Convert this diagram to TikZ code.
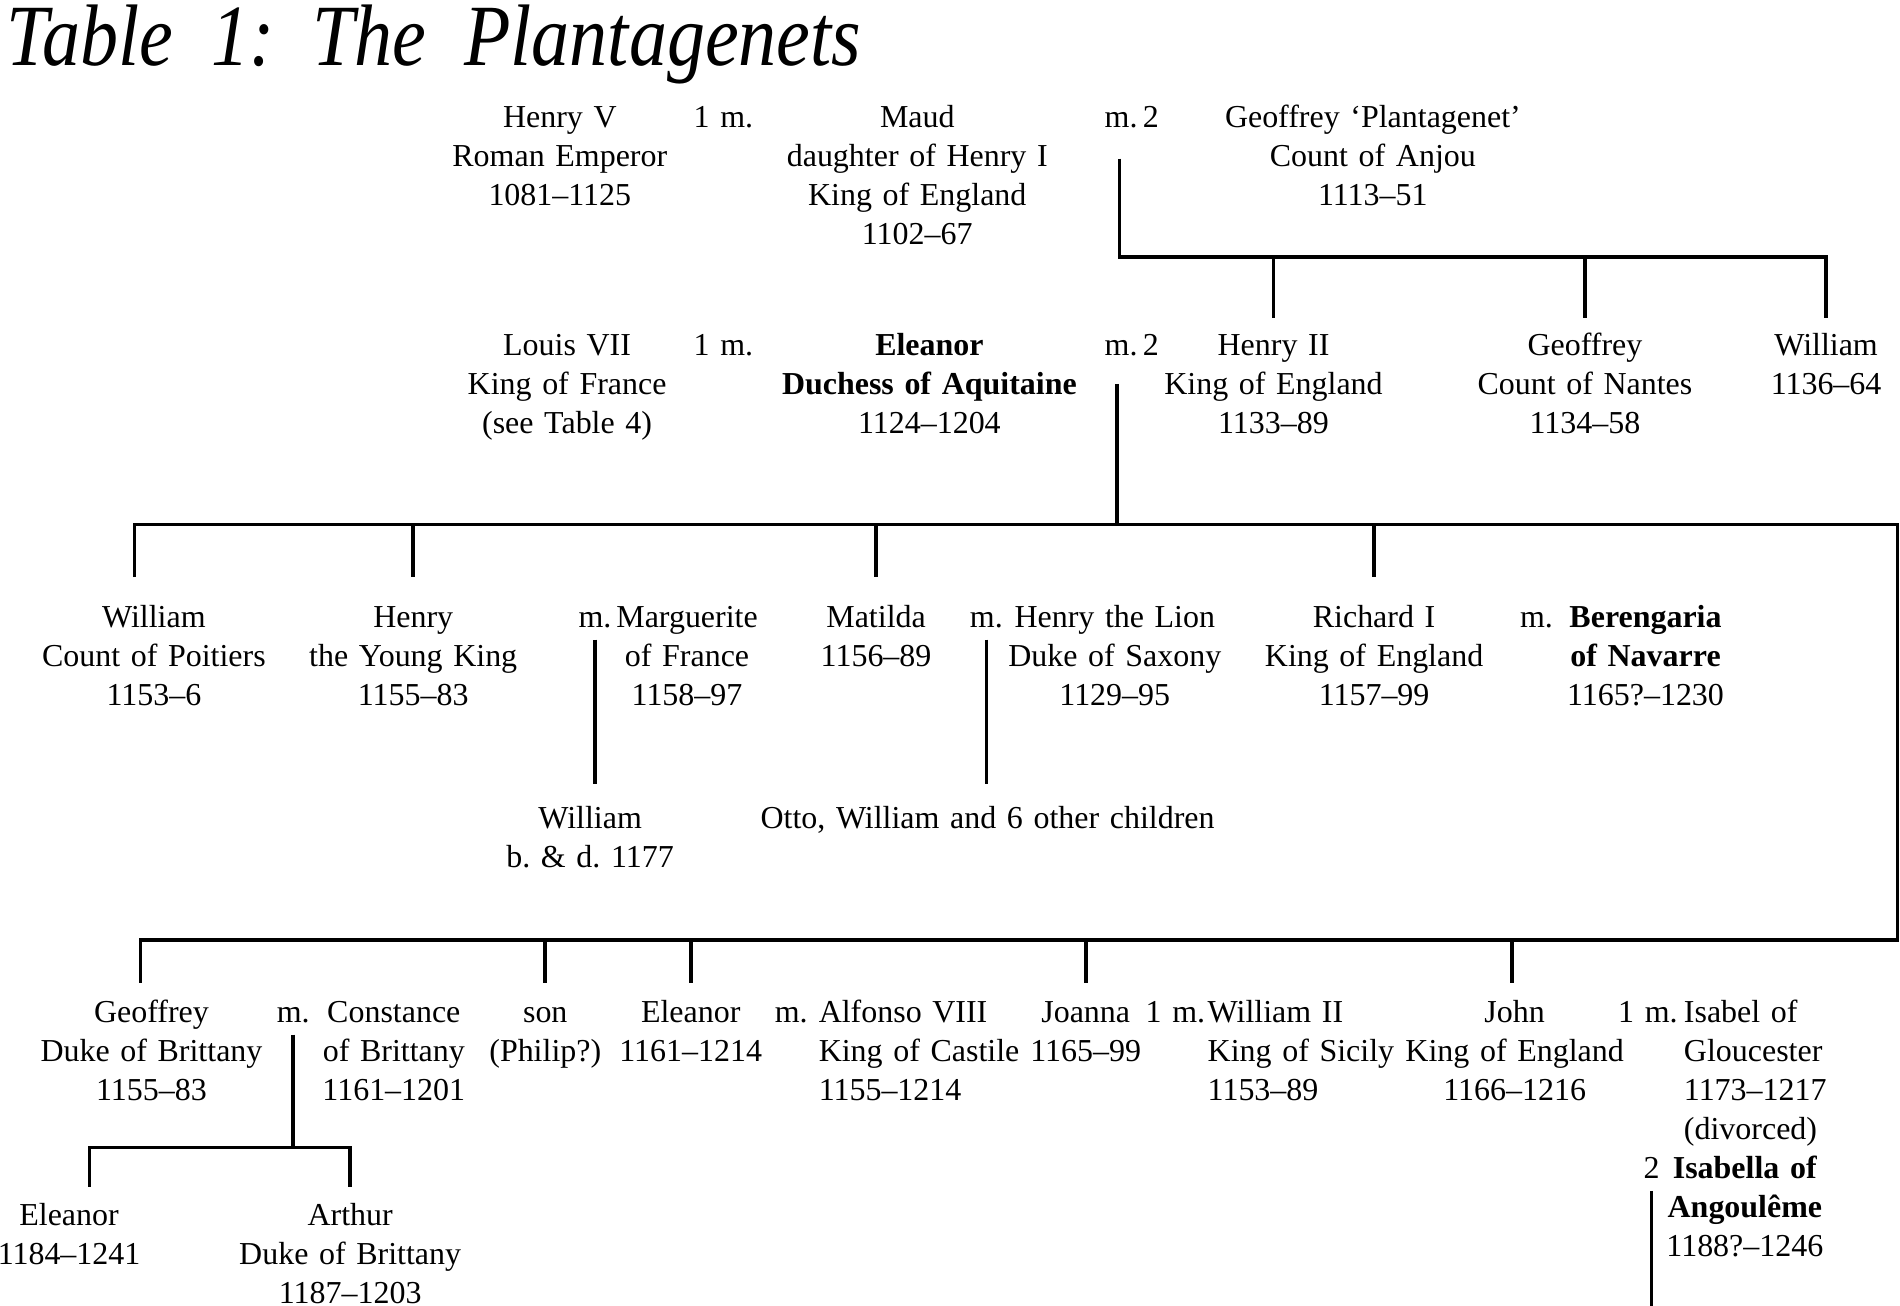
\documentclass[tikz,border=0pt]{standalone}
\usepackage{fontspec}
\setmainfont{Liberation Serif}
\newfontfamily\titlefont{Liberation Serif}[FakeStretch=0.87]
\usetikzlibrary{calc}

\begin{document}
\begin{tikzpicture}[
        x=0.01cm, y=0.01cm,
        person/.style={
            align=center,
            text width=4cm,
            anchor=base,
            inner sep=0pt,
            font={\fontsize{7.5}{9.15}\selectfont},
            execute at begin node=\strut
        },
        leftperson/.style={
            person,
            align=left,
            anchor=base west
        },
        tree/.style={
            line width=0.85pt
        }
    ]

    \useasboundingbox (0,0) rectangle (1568,-1077);

    \node[anchor=base west, inner sep=0pt, font={\fontsize{20.5}{20.5}\selectfont\titlefont\itshape}] (title) at (5,-54) {Table\ \ 1:\ \ The\ \ Plantagenets};

    \node[person] (henryV) at (462,-105.5) {Henry V\\Roman Emperor\\1081--1125};
    \node[person] (mA) at (597,-105.5) {1 m.};
    \node[person] (maud) at (757,-105.5) {Maud\\daughter of Henry I\\King of England\\1102--67};
    \node[person] (mB) at (934,-105.5) {m.\,2};
    \node[person] (anjou) at (1133,-105.5) {Geoffrey ‘Plantagenet’\\Count of Anjou\\1113--51};

    \node[person] (louis) at (468,-293.5) {Louis VII\\King of France\\(see Table 4)};
    \node[person] (mC) at (597,-293.5) {1 m.};
    \node[person] (eleanorA) at (767,-293.5) {\textbf{Eleanor}\\\textbf{Duchess of Aquitaine}\\1124--1204};
    \node[person] (mD) at (934,-293.5) {m.\,2};
    \node[person] (henryII) at (1051,-293.5) {Henry II\\King of England\\1133--89};
    \node[person] (geoffreyN) at (1308,-293.5) {Geoffrey\\Count of Nantes\\1134--58};
    \node[person] (williamT) at (1507,-293.5) {William\\1136--64};

    \node[person] (williamP) at (127,-517.5) {William\\Count of Poitiers\\1153--6};
    \node[person] (henryY) at (341,-517.5) {Henry\\the Young King\\1155--83};
    \node[person] (mE) at (491,-517.5) {m.};
    \node[person] (marguerite) at (567,-517.5) {Marguerite\\of France\\1158--97};
    \node[person] (matilda) at (723,-517.5) {Matilda\\1156--89};
    \node[person] (mF) at (814,-517.5) {m.};
    \node[person] (lion) at (920,-517.5) {Henry the Lion\\Duke of Saxony\\1129--95};
    \node[person] (richard) at (1134,-517.5) {Richard I\\King of England\\1157--99};
    \node[person] (mG) at (1268,-517.5) {m.};
    \node[person] (berengaria) at (1358,-517.5) {\textbf{Berengaria}\\\textbf{of Navarre}\\1165?--1230};

    \node[person] (williamB) at (487,-683.5) {William\\b.~\&~d.\ 1177};
    \node[person] (otto) at (815,-683.5) {Otto, William and 6 other children};

    \node[person] (geoffreyB) at (125,-843.5) {Geoffrey\\Duke of Brittany\\1155--83};
    \node[person] (mH) at (242,-843.5) {m.};
    \node[person] (constance) at (325,-843.5) {Constance\\of Brittany\\1161--1201};
    \node[person] (son) at (450,-843.5) {son\\(Philip?)};
    \node[person] (eleanorC) at (570,-843.5) {Eleanor\\1161--1214};
    \node[person] (mI) at (653,-843.5) {m.};
    \node[leftperson] (alfonso) at (675,-843.5) {Alfonso VIII\\King of Castile\\1155--1214};
    \node[person] (joanna) at (896,-843.5) {Joanna\\1165--99};
    \node[person] (mJ) at (970,-843.5) {1 m.};
    \node[leftperson] (williamS) at (996,-843.5) {William II\\King of Sicily\\1153--89};
    \node[person] (john) at (1250,-843.5) {John\\King of England\\1166--1216};
    \node[person] (mK) at (1360,-843.5) {1 m.};
    \node[leftperson] (isabel) at (1389,-843.5) {Isabel of\\Gloucester\\1173--1217\\(divorced)};
    \node[person] (mL) at (1363,-972.5) {2};
    \node[person] (isabella) at (1440,-972.5) {\textbf{Isabella of}\\\textbf{Angoulême}\\1188?--1246};

    \node[person] (eleanorD) at (57,-1011.5) {Eleanor\\1184--1241};
    \node[person] (arthur) at (289,-1011.5) {Arthur\\Duke of Brittany\\1187--1203};

    \coordinate (barA) at (1507,-212);
    \coordinate (barB) at (1566,-433);
    \coordinate (barC) at (1566,-776);
    \coordinate (barD) at (0,-947);
    \coordinate (edge) at (0,-1080);

    \draw[tree] ($(mB.south)+(-10,-15)$) |- (barA) -- ($(williamT.north)+(0,8)$);
    \foreach \k in {henryII, geoffreyN}
        \draw[tree] (\k.north |- barA) -- ($(\k.north)+(0,8)$);

    \draw[tree] ($(mD.south)+(-12,-13)$) coordinate (fD) -- (fD |- barB);
    \draw[tree] ($(williamP.north)+(-16,18)$) |- (barB) -- (barC) -| ($(geoffreyB.north)+(-9,9)$);
    \foreach \k in {henryY, matilda, richard}
        \draw[tree] (\k.north |- barB) -- ($(\k.north)+(0,18)$);
    \foreach \k in {son, eleanorC, joanna}
        \draw[tree] (\k.north |- barC) -- ($(\k.north)+(0,9)$);
    \draw[tree] ($(john.north |- barC)+(-2,0)$) -- ($(john.north)+(-2,9)$);

    \draw[tree] (mE.south) -- ($(mE.south |- williamB.north)+(0,13)$);
    \draw[tree] (mF.south) -- ($(mF.south |- otto.north)+(0,13)$);

    \draw[tree] (mH.south) -- (mH.south |- barD);
    \draw[tree] ($(eleanorD.north)+(17,9)$) |- (arthur.north |- barD) -- ($(arthur.north)+(0,9)$);

    \draw[tree] (mL.south) -- (mL.south |- edge);

\end{tikzpicture}
\end{document}
